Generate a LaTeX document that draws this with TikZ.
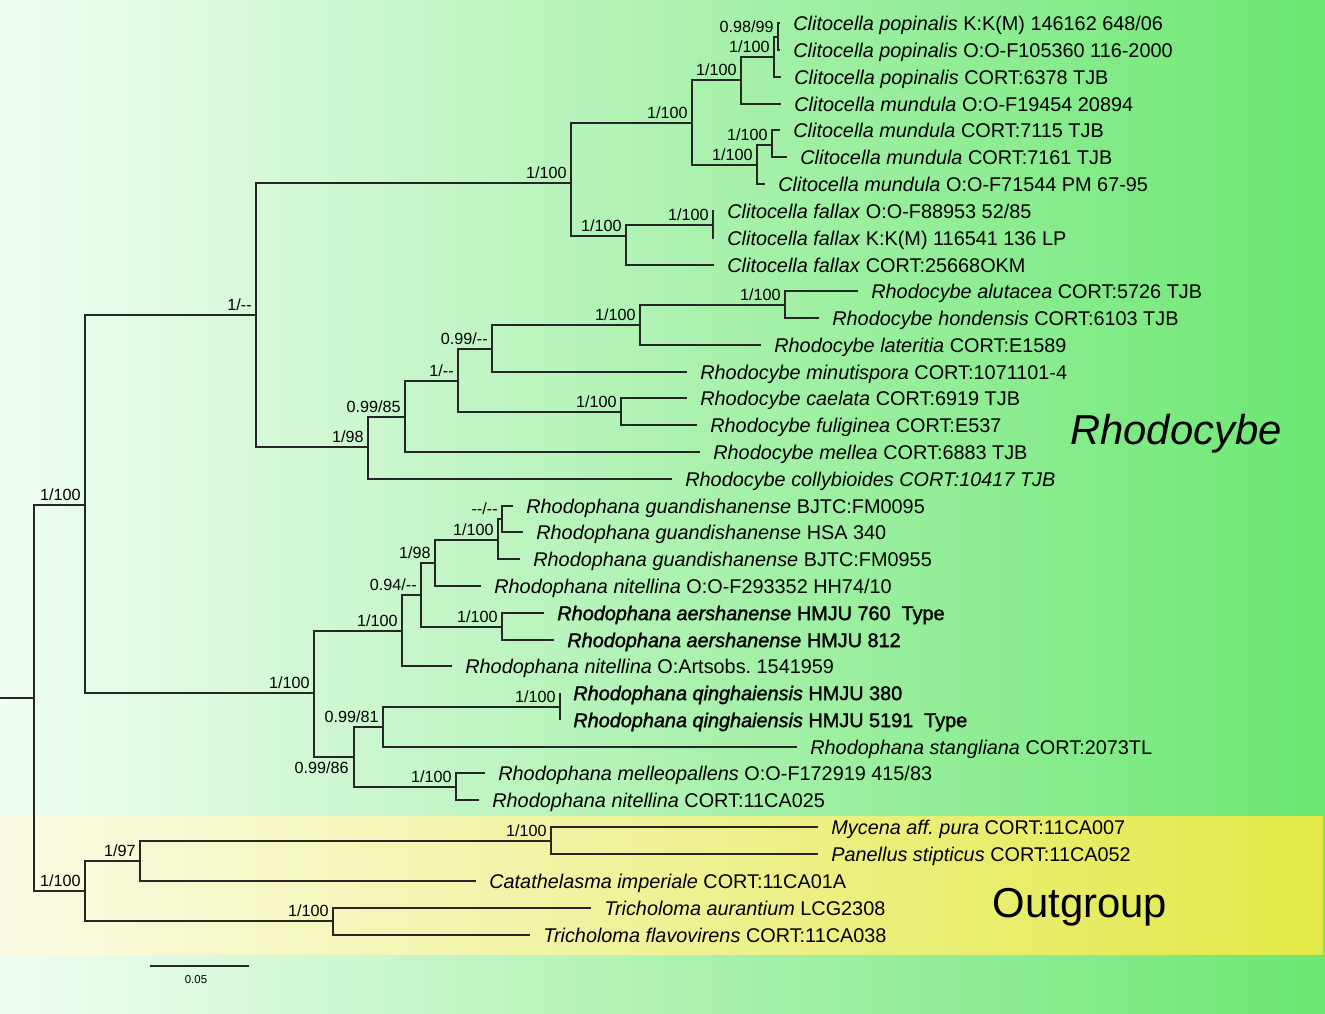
\documentclass[tikz,border=0pt]{standalone}
\usepackage{fontspec}
\setmainfont{Liberation Sans}
\newfontfamily\supfont{Liberation Sans}
\newfontfamily\boldleaf{Liberation Sans}[UprightFeatures={FakeBold=1.6}, ItalicFont=Liberation Sans Italic, ItalicFeatures={FakeBold=1.6}]
\usetikzlibrary{positioning}
\definecolor{bgleft}{RGB}{240,253,242}
\definecolor{bgright}{RGB}{108,231,114}
\definecolor{ogleft}{RGB}{251,251,229}
\definecolor{ogright}{RGB}{226,233,70}
\begin{document}
\begin{tikzpicture}[x=0.02cm, y=-0.02cm, br/.style={draw=black!85, line width=0.7pt}, leaf/.style={anchor=west, inner xsep=0.26cm, inner ysep=0pt, text height=8.1pt, text depth=0pt, font=\fontsize{11.3}{13}\selectfont}, sup/.style={inner sep=0pt, text height=6.6pt, text depth=0pt, font=\supfont\fontsize{9.2}{11}\selectfont}, grp/.style={anchor=base, font=\fontsize{23.8}{28}\selectfont}]

\useasboundingbox (0,0) rectangle (1325,1014);
\shade[left color=bgleft, right color=bgright] (0,0) rectangle (1325,1014);
\shade[left color=ogleft, right color=ogright] (0,816) rectangle (1323,954);

% internal nodes
\coordinate (stem) at (0,698);
\coordinate (root) at (34,698);
\coordinate (ing) at (85,505);
\coordinate (cr) at (256,315);
\coordinate (cli) at (571,183);
\coordinate (cA) at (692,123);
\coordinate (cB) at (741,80);
\coordinate (cC) at (774,57);
\coordinate (cD) at (778,37);
\coordinate (cE) at (757,165);
\coordinate (cF) at (772,145);
\coordinate (cG) at (626,236);
\coordinate (cH) at (713,225);
\coordinate (rh) at (368,447);
\coordinate (rA) at (405,417);
\coordinate (rB) at (458,381);
\coordinate (rC) at (492,349);
\coordinate (rD) at (640,325);
\coordinate (rE) at (785,305);
\coordinate (rF) at (621,412);
\coordinate (ph) at (314,693);
\coordinate (pA) at (402,631);
\coordinate (pB) at (421,595);
\coordinate (pC) at (435,563);
\coordinate (pD) at (498,540);
\coordinate (pE) at (502,519);
\coordinate (pF) at (502,627);
\coordinate (pG) at (354,757);
\coordinate (pH) at (383,727);
\coordinate (pI) at (560,707);
\coordinate (pJ) at (456,787);
\coordinate (og) at (85,891);
\coordinate (oA) at (140,861);
\coordinate (oB) at (551,841);
\coordinate (oC) at (333,921);

% taxa
\node[leaf] (l1) at (780,23) {\textit{Clitocella popinalis} K:K(M) 146162 648/06};
\node[leaf] (l2) at (780,50) {\textit{Clitocella popinalis} O:O-F105360 116-2000};
\node[leaf] (l3) at (781,77) {\textit{Clitocella popinalis} CORT:6378 TJB};
\node[leaf] (l4) at (781,104) {\textit{Clitocella mundula} O:O-F19454 20894};
\node[leaf] (l5) at (780,130) {\textit{Clitocella mundula} CORT:7115 TJB};
\node[leaf] (l6) at (787,157) {\textit{Clitocella mundula} CORT:7161 TJB};
\node[leaf] (l7) at (765,184) {\textit{Clitocella mundula} O:O-F71544 PM 67-95};
\node[leaf] (l8) at (714,211) {\textit{Clitocella fallax} O:O-F88953 52/85};
\node[leaf] (l9) at (714,238) {\textit{Clitocella fallax} K:K(M) 116541 136 LP};
\node[leaf] (l10) at (714,265) {\textit{Clitocella fallax} CORT:25668OKM};
\node[leaf] (l11) at (858,291) {\textit{Rhodocybe alutacea} CORT:5726 TJB};
\node[leaf] (l12) at (819,318) {\textit{Rhodocybe hondensis} CORT:6103 TJB};
\node[leaf] (l13) at (761,345) {\textit{Rhodocybe lateritia} CORT:E1589};
\node[leaf] (l14) at (687,372) {\textit{Rhodocybe minutispora} CORT:1071101-4};
\node[leaf] (l15) at (687,398) {\textit{Rhodocybe caelata} CORT:6919 TJB};
\node[leaf] (l16) at (697,425) {\textit{Rhodocybe fuliginea} CORT:E537};
\node[leaf] (l17) at (700,452) {\textit{Rhodocybe mellea} CORT:6883 TJB};
\node[leaf] (l18) at (672,479) {\textit{Rhodocybe collybioides CORT:10417 TJB}};
\node[leaf] (l19) at (513,506) {\textit{Rhodophana guandishanense} BJTC:FM0095};
\node[leaf] (l20) at (523,532) {\textit{Rhodophana guandishanense} HSA 340};
\node[leaf] (l21) at (520,559) {\textit{Rhodophana guandishanense} BJTC:FM0955};
\node[leaf] (l22) at (481,586) {\textit{Rhodophana nitellina} O:O-F293352 HH74/10};
\node[leaf] (l23) at (544,613) {\boldleaf\textit{Rhodophana aershanense} HMJU 760\hspace{0.55em}Type};
\node[leaf] (l24) at (554,640) {\boldleaf\textit{Rhodophana aershanense} HMJU 812};
\node[leaf] (l25) at (452,666) {\textit{Rhodophana nitellina} O:Artsobs.\ 1541959};
\node[leaf] (l26) at (560,693) {\boldleaf\textit{Rhodophana qinghaiensis} HMJU 380};
\node[leaf] (l27) at (560,720) {\boldleaf\textit{Rhodophana qinghaiensis} HMJU 5191\hspace{0.55em}Type};
\node[leaf] (l28) at (797,747) {\textit{Rhodophana stangliana} CORT:2073TL};
\node[leaf] (l29) at (485,773) {\textit{Rhodophana melleopallens} O:O-F172919 415/83};
\node[leaf] (l30) at (479,800) {\textit{Rhodophana nitellina} CORT:11CA025};
\node[leaf] (l31) at (818,827) {\textit{Mycena aff.\ pura} CORT:11CA007};
\node[leaf] (l32) at (818,854) {\textit{Panellus stipticus} CORT:11CA052};
\node[leaf] (l33) at (476,881) {\textit{Catathelasma imperiale} CORT:11CA01A};
\node[leaf] (l34) at (591,908) {\textit{Tricholoma aurantium} LCG2308};
\node[leaf] (l35) at (530,935) {\textit{Tricholoma flavovirens} CORT:11CA038};

% branches
\draw[br] (stem) -- (root);
\foreach \a/\b in {root/ing, root/og, ing/cr, ing/ph, cr/cli, cr/rh,
  cli/cA, cli/cG, cA/cB, cA/cE, cB/cC, cB/l4, cC/cD, cC/l3, cD/l1, cD/l2,
  cE/cF, cE/l7, cF/l5, cF/l6, cG/cH, cG/l10, cH/l8, cH/l9,
  rh/rA, rh/l18, rA/rB, rA/l17, rB/rC, rB/rF, rC/rD, rC/l14, rD/rE, rD/l13,
  rE/l11, rE/l12, rF/l15, rF/l16,
  ph/pA, ph/pG, pA/pB, pA/l25, pB/pC, pB/pF, pC/pD, pC/l22, pD/pE, pD/l21,
  pE/l19, pE/l20, pF/l23, pF/l24, pG/pH, pG/pJ, pH/pI, pH/l28, pI/l26, pI/l27,
  pJ/l29, pJ/l30,
  og/oA, og/oC, oA/oB, oA/l33, oB/l31, oB/l32, oC/l34, oC/l35}
  \draw[br] (\a) |- (\b);

% support values
\node[sup, above left=0.08cm and 0.08cm of ing] (s-ing) {1/100};
\node[sup, above left=0.08cm and 0.08cm of cr] (s-cr) {1/--};
\node[sup, above left=0.08cm and 0.08cm of cli] (s-cli) {1/100};
\node[sup, above left=0.08cm and 0.08cm of cA] (s-cA) {1/100};
\node[sup, above left=0.08cm and 0.08cm of cB] (s-cB) {1/100};
\node[sup, above left=0.08cm and 0.08cm of cC] (s-cC) {1/100};
\node[sup, above left=0.08cm and 0.08cm of cD] (s-cD) {0.98/99};
\node[sup, above left=0.08cm and 0.08cm of cE] (s-cE) {1/100};
\node[sup, above left=0.08cm and 0.08cm of cF] (s-cF) {1/100};
\node[sup, above left=0.08cm and 0.08cm of cG] (s-cG) {1/100};
\node[sup, above left=0.08cm and 0.08cm of cH] (s-cH) {1/100};
\node[sup, above left=0.08cm and 0.08cm of rh] (s-rh) {1/98};
\node[sup, above left=0.08cm and 0.08cm of rA] (s-rA) {0.99/85};
\node[sup, above left=0.08cm and 0.08cm of rB] (s-rB) {1/--};
\node[sup, above left=0.08cm and 0.08cm of rC] (s-rC) {0.99/--};
\node[sup, above left=0.08cm and 0.08cm of rD] (s-rD) {1/100};
\node[sup, above left=0.08cm and 0.08cm of rE] (s-rE) {1/100};
\node[sup, above left=0.08cm and 0.08cm of rF] (s-rF) {1/100};
\node[sup, above left=0.08cm and 0.08cm of ph] (s-ph) {1/100};
\node[sup, above left=0.08cm and 0.08cm of pA] (s-pA) {1/100};
\node[sup, above left=0.08cm and 0.08cm of pB] (s-pB) {0.94/--};
\node[sup, above left=0.08cm and 0.08cm of pC] (s-pC) {1/98};
\node[sup, above left=0.08cm and 0.08cm of pD] (s-pD) {1/100};
\node[sup, above left=0.08cm and 0.08cm of pE] (s-pE) {--/--};
\node[sup, above left=0.08cm and 0.08cm of pF] (s-pF) {1/100};
\node[sup, below left=0.1cm and 0.1cm of pG] (s-pG) {0.99/86};
\node[sup, above left=0.08cm and 0.08cm of pH] (s-pH) {0.99/81};
\node[sup, above left=0.08cm and 0.08cm of pI] (s-pI) {1/100};
\node[sup, above left=0.08cm and 0.08cm of pJ] (s-pJ) {1/100};
\node[sup, above left=0.08cm and 0.08cm of og] (s-og) {1/100};
\node[sup, above left=0.08cm and 0.08cm of oA] (s-oA) {1/97};
\node[sup, above left=0.08cm and 0.08cm of oB] (s-oB) {1/100};
\node[sup, above left=0.08cm and 0.08cm of oC] (s-oC) {1/100};

% groups
\node[grp, font=\fontsize{23.8}{28}\selectfont\itshape] (rhodo) at (1176,444) {Rhodocybe};
\node[grp] (outg) at (1080,917) {Outgroup};

% scale bar
\coordinate (sb1) at (150,966);
\coordinate (sb2) at (249,966);
\draw[br] (sb1) -- (sb2);
\node[font=\supfont\fontsize{6.5}{8}\selectfont, inner sep=0pt] (sbl) at (196,980) {0.05};
\end{tikzpicture}
\end{document}
